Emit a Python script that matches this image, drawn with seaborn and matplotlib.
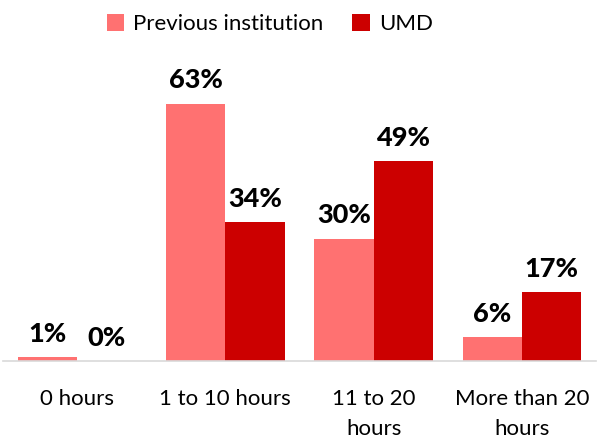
import seaborn as sns
import matplotlib.pyplot as plt
import pandas as pd

categories = ["0 hours", "1 to 10 hours", "11 to 20\nhours", "More than 20\nhours"]
previous = [1, 63, 30, 6]
umd = [0, 34, 49, 17]
series = ["Previous institution", "UMD"]
colors = ["#FF7171", "#CC0000"]

df = pd.DataFrame({
    "category": categories * 2,
    "value": previous + umd,
    "group": [series[0]] * 4 + [series[1]] * 4,
})

sns.set_style("white")
plt.rcParams['font.family'] = ['Lato', 'DejaVu Sans']
plt.rcParams['text.color'] = 'black'
plt.rcParams['xtick.color'] = 'black'

fig = plt.figure(figsize=(5.99, 4.41), dpi=100)
ax = fig.add_axes([0.005, 0.181, 0.99, 0.649])
sns.barplot(data=df, x="category", y="value", hue="group", palette=colors,
            width=0.8, saturation=1, linewidth=0, edgecolor="none",
            ax=ax, legend=True)

for cont in ax.containers:
    ax.bar_label(cont, labels=[f"{v:.0f}%" for v in cont.datavalues],
                 padding=8, fontsize=19.5, fontweight="black", color="black")

ax.set_ylim(0, 70)
ax.set_xlim(-0.5, 3.5)
ax.set_xlabel("")
ax.set_ylabel("")
ax.set_yticks([])
ax.tick_params(axis="x", length=0, pad=20, labelsize=16, labelcolor="black")
for lbl in ax.get_xticklabels():
    lbl.set_linespacing(1.6)
for s in ["top", "right", "left"]:
    ax.spines[s].set_visible(False)
ax.spines["bottom"].set_color("#d9d9d9")
ax.spines["bottom"].set_linewidth(1.2)

leg = ax.legend(ncol=2, loc="upper center", bbox_to_anchor=(0.45, 1.283), frameon=False,
                fontsize=16, handlelength=0.8, handleheight=0.8, handletextpad=0.4,
                columnspacing=1.3)
for t in leg.get_texts():
    t.set_color("black")

plt.savefig("out.png", dpi=100)
